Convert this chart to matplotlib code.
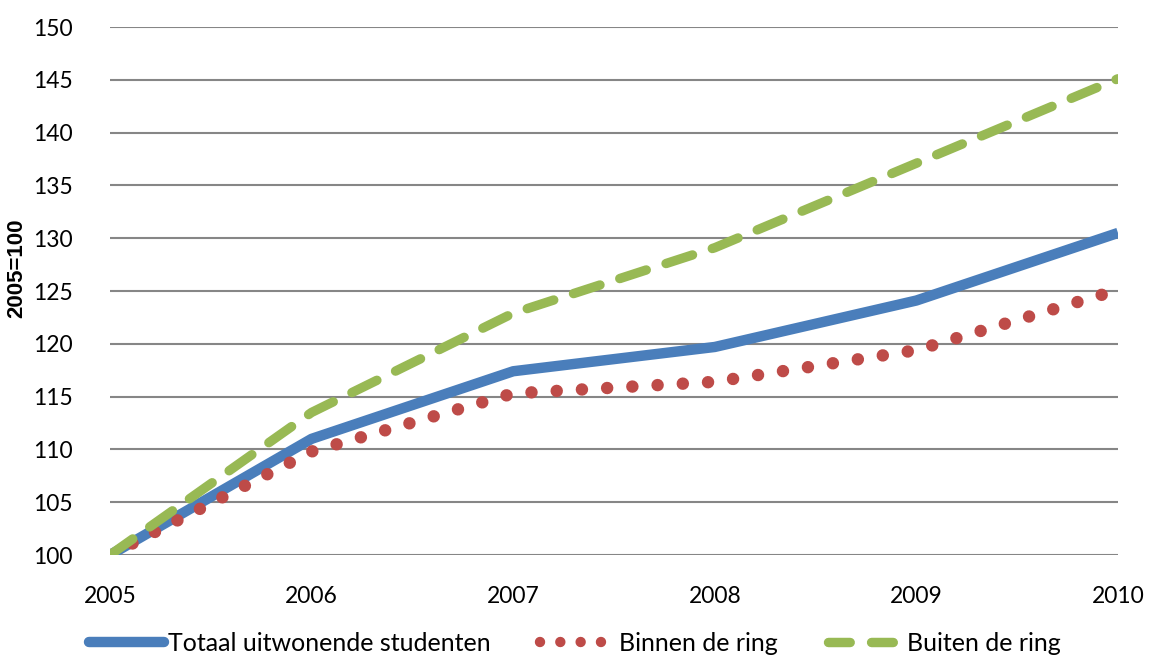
import matplotlib
matplotlib.use("Agg")
import matplotlib.pyplot as plt
from matplotlib.lines import Line2D

years = [2005, 2006, 2007, 2008, 2009, 2010]
totaal = [100, 111.0, 117.4, 119.7, 124.1, 130.5]
binnen = [100, 109.8, 115.3, 116.4, 119.4, 125.1]
buiten = [100, 113.5, 122.9, 129.1, 137.1, 145.1]
labels = ["Totaal uitwonende studenten", "Binnen de ring", "Buiten de ring"]
yticks = [100, 105, 110, 115, 120, 125, 130, 135, 140, 145, 150]

BLUE = "#4a7ebb"
RED = "#be4b48"
GREEN = "#98b954"

plt.rcParams['font.family'] = ['Lato', 'DejaVu Sans']

fig = plt.figure(figsize=(11.54, 6.59), dpi=100)
ax = fig.add_axes([110/1154, 1-555/659, 1008/1154, 528/659])

ax.plot(years, totaal, color=BLUE, lw=7.5, solid_capstyle='butt', solid_joinstyle='round', zorder=3)
ax.plot(years, binnen, color=RED, lw=9, linestyle=(0, (0.001, 2.02)), dash_capstyle='round', zorder=4)
ax.plot(years, buiten, color=GREEN, lw=6.8, linestyle=(0, (2.95, 2.2)), dash_capstyle='round', zorder=5)

ax.set_xlim(2005, 2010)
ax.set_ylim(100, 150)
ax.set_yticks(yticks)
ax.set_xticks(years)
ax.grid(axis='y', color='#868686', lw=1.5)
ax.set_axisbelow(True)
for s in ax.spines.values():
    s.set_visible(False)
ax.tick_params(axis='both', length=0, labelsize=16.5, colors='black')
ax.tick_params(axis='y', pad=27)
ax.tick_params(axis='x', pad=22)
ax.set_ylabel("2005=100", fontsize=16, fontweight='bold', family=['Liberation Sans', 'DejaVu Sans'])
ax.yaxis.set_label_coords(-0.082, 0.543)

handles = [
    Line2D([], [], color=BLUE, lw=7.5, solid_capstyle='round'),
    Line2D([], [], color=RED, lw=7.5, linestyle=(0, (0.001, 1.95)), dash_capstyle='round'),
    Line2D([], [], color=GREEN, lw=6.8, linestyle=(0, (2.3, 2.26)), dash_capstyle='round'),
]
fig.legend(handles, labels, loc='center', bbox_to_anchor=(0.498, 0.024), ncol=3,
           frameon=False, fontsize=18, handlelength=3.0, handletextpad=0.16,
           columnspacing=2.0)

fig.savefig("out.png", dpi=100)
